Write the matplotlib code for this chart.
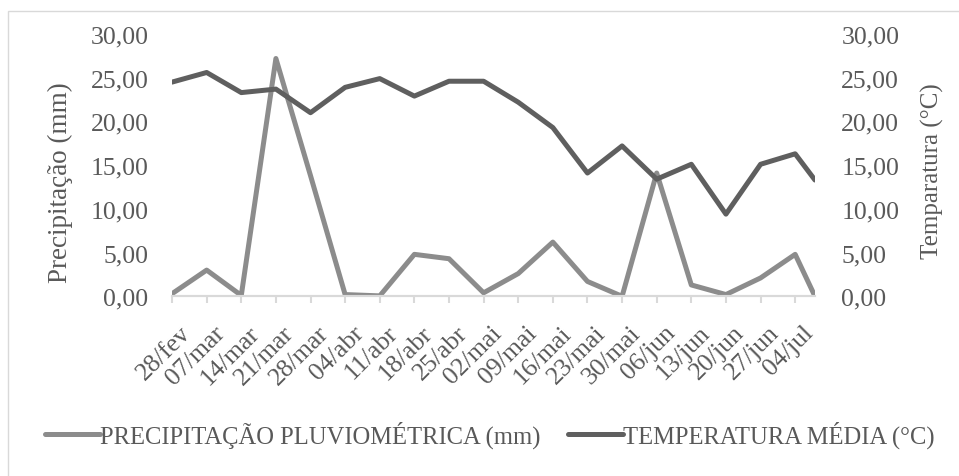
import matplotlib
matplotlib.use("Agg")
import matplotlib.pyplot as plt
from matplotlib.patches import Rectangle
from matplotlib.transforms import ScaledTranslation
import pandas as pd

# Weekly observation dates (last reading taken a few days after the final week)
sample_dates = ["2019-02-28", "2019-03-07", "2019-03-14", "2019-03-21", "2019-03-28",
                "2019-04-04", "2019-04-11", "2019-04-18", "2019-04-25", "2019-05-02",
                "2019-05-09", "2019-05-16", "2019-05-23", "2019-05-30", "2019-06-06",
                "2019-06-13", "2019-06-20", "2019-06-27", "2019-07-04", "2019-07-08"]

precipitacao = [0.3, 3.0, 0.1, 27.2, 13.8, 0.2, 0.05, 4.8, 4.3, 0.4,
                2.6, 6.2, 1.7, 0.0, 14.1, 1.3, 0.2, 2.1, 4.8, 0.0]

temperatura = [24.5, 25.6, 23.3, 23.7, 21.0, 23.9, 24.9, 22.9, 24.6, 24.6,
               22.2, 19.3, 14.1, 17.2, 13.4, 15.1, 9.4, 15.1, 16.3, 13.3]

tick_dates = sample_dates[:19]
tick_labels = ["28/fev", "07/mar", "14/mar", "21/mar", "28/mar", "04/abr", "11/abr",
               "18/abr", "25/abr", "02/mai", "09/mai", "16/mai", "23/mai", "30/mai",
               "06/jun", "13/jun", "20/jun", "27/jun", "04/jul"]

y_ticks = [0, 5, 10, 15, 20, 25, 30]

TEXT = "#595959"
GRID = "#d9d9d9"
C_PREC = "#8c8c8c"
C_TEMP = "#5f5f5f"
FONT = "Liberation Serif"
TICK_FS = 18.5

plt.rcParams["font.family"] = [FONT, "DejaVu Serif"]

x = pd.to_datetime(sample_dates)
xt = pd.to_datetime(tick_dates)

fig = plt.figure(figsize=(9.59, 4.77), dpi=100)
fig.patches.append(Rectangle((8 / 959, -0.1), 1.2, 1.1 - 12 / 477,
                             transform=fig.transFigure, fill=False,
                             edgecolor=GRID, linewidth=1.0))

ax = fig.add_axes([0.1794, 0.3767, 0.8498 - 0.1794, 0.9266 - 0.3767])
ax2 = ax.twinx()

lw = 3.6
l1, = ax.plot(x, precipitacao, color=C_PREC, linewidth=lw, solid_joinstyle="round",
              solid_capstyle="round", label="PRECIPITAÇÃO PLUVIOMÉTRICA (mm)")
l2, = ax2.plot(x, temperatura, color=C_TEMP, linewidth=lw, solid_joinstyle="round",
               solid_capstyle="round", label="TEMPERATURA MÉDIA (°C)")

for a in (ax, ax2):
    a.set_ylim(0, 30)
    a.set_yticks(y_ticks)
    a.set_yticklabels([f"{v:.2f}".replace(".", ",") for v in y_ticks])
    a.set_xlim(x[0], x[-1])
    for s in ("top", "left", "right"):
        a.spines[s].set_visible(False)
    a.spines["bottom"].set_color(GRID)
    a.spines["bottom"].set_linewidth(1.5)
    a.tick_params(axis="y", length=0, labelsize=TICK_FS, labelcolor=TEXT)
    a.patch.set_visible(False)

ax.tick_params(axis="y", pad=17)
ax2.tick_params(axis="y", pad=19)

ax.set_xticks(xt)
ax.set_xticklabels(tick_labels, rotation=45, ha="right", va="top",
                   rotation_mode="anchor")
ax.tick_params(axis="x", length=5, width=1.5, color=GRID, labelsize=TICK_FS,
               labelcolor=TEXT, pad=13)
shift = ScaledTranslation(7 / 100, 0, fig.dpi_scale_trans)
for lab in ax.get_xticklabels():
    lab.set_transform(lab.get_transform() + shift)

fig.text(60 / 959, 1 - 183 / 477, "Precipitação (mm)", rotation=90,
         ha="center", va="center", fontsize=19.5, color=TEXT)
fig.text(932 / 959, 1 - 171 / 477, "Temparatura (°C)", rotation=90,
         ha="center", va="center", fontsize=18, color=TEXT)

fig.legend(handles=[l1, l2], loc="center", bbox_to_anchor=(0.511, 0.088),
           ncol=2, frameon=False, fontsize=17.7, handlelength=2.25,
           handletextpad=0.0, columnspacing=1.1, labelcolor=TEXT)

fig.savefig("out.png", dpi=100)
